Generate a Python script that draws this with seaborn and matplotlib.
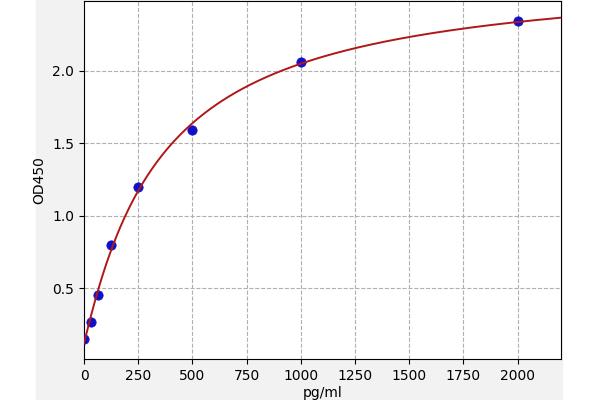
import numpy as np
import pandas as pd
import matplotlib
matplotlib.use("Agg")
import matplotlib.pyplot as plt
import seaborn as sns
from matplotlib.patches import Rectangle

# standard curve readings
conc = [0, 31.25, 62.5, 125, 250, 500, 1000, 2000]
od450 = [0.147, 0.265, 0.455, 0.80, 1.198, 1.59, 2.06, 2.34]
x_ticks = [0, 250, 500, 750, 1000, 1250, 1500, 1750, 2000]
y_ticks = [0.5, 1.0, 1.5, 2.0]


def four_pl(x, p):
    a, b, c, d = p
    return d + (a - d) / (1.0 + (np.abs(x) / c) ** b)


def fit_four_pl(x, y, p0, n_iter=500):
    """small Levenberg-Marquardt fit, no scipy needed"""
    p = np.array(p0, dtype=float)
    lam = 1e-2
    for _ in range(n_iter):
        r = y - four_pl(x, p)
        J = np.zeros((len(x), len(p)))
        for i in range(len(p)):
            dp = np.zeros_like(p)
            dp[i] = 1e-6 * max(abs(p[i]), 1.0)
            J[:, i] = (four_pl(x, p + dp) - four_pl(x, p - dp)) / (2 * dp[i])
        A = J.T @ J
        g = J.T @ r
        step = np.linalg.solve(A + lam * np.diag(np.diag(A)), g)
        p_new = p + step
        if p_new[2] > 0 and np.sum((y - four_pl(x, p_new)) ** 2) < np.sum(r ** 2):
            p = p_new
            lam *= 0.3
        else:
            lam *= 10
    return p


df = pd.DataFrame({"conc": conc, "od": od450})
params = fit_four_pl(df["conc"].values, df["od"].values, [0.14, 1.0, 400.0, 2.8])

curve_x = np.linspace(0, 2200, 400)
curve = pd.DataFrame({"conc": curve_x, "od": four_pl(curve_x, params)})

fig = plt.figure(figsize=(6, 4), dpi=100)
fig.patch.set_facecolor("white")
fig.patches.append(Rectangle((36 / 600, 0), (562 - 36) / 600, 1,
                             transform=fig.transFigure, color="#f2f2f2", zorder=-10))
ax = fig.add_axes([84 / 600, 41 / 400, 477 / 600, 358 / 400])
ax.set_facecolor("white")

sns.scatterplot(data=df, x="conc", y="od", ax=ax, color="#1010c8", s=45,
                edgecolor="#1010c8", zorder=3)
sns.lineplot(data=curve, x="conc", y="od", ax=ax, color="#b01818", linewidth=1.4, zorder=4)

ax.set_xlim(0, 2200)
ax.set_ylim(0.012, 2.48)
ax.set_xticks(x_ticks)
ax.set_yticks(y_ticks)
ax.grid(True, linestyle="--", color="#b0b0b0", linewidth=0.8)
ax.set_axisbelow(True)
ax.tick_params(labelsize=10)
ax.set_xlabel("pg/ml", fontsize=10, labelpad=2)
ax.set_ylabel("OD450", fontsize=10)
for s in ax.spines.values():
    s.set_color("black")

fig.savefig("out.png", dpi=100)
